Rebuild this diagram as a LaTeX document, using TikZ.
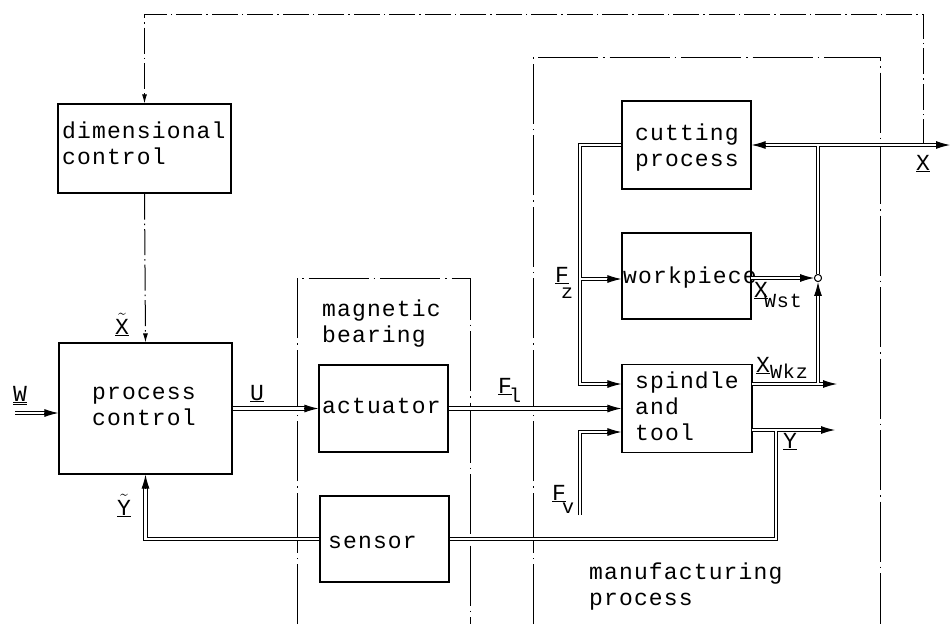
\documentclass[tikz,border=0pt]{standalone}
\usepackage{fontspec}
\newfontfamily\plotfont{Liberation Mono}[LetterSpace=5]
\usetikzlibrary{arrows.meta,calc}
\begin{document}
\begin{tikzpicture}[x=1pt,y=-1pt,
  box/.style={draw,line width=1.1pt,inner sep=0pt,minimum width=#1},
  txt/.style={font=\plotfont\fontsize{23}{26}\selectfont,inner sep=0pt,align=left,anchor=base west},
  lbl/.style={font=\plotfont\fontsize{23}{24}\selectfont,inner sep=0pt,anchor=base west},
  sig/.style={double,line width=1pt,double distance=2.2pt},
  arrowhd/.style={line width=1pt,-{Latex[length=14pt,width=8pt]}},
  smallhd/.style={line width=1pt,-{Latex[length=9pt,width=5pt]}},
  loopline/.style={line width=1pt,dash pattern=on 26pt off 4pt on 1.5pt off 4pt},
  region/.style={line width=1pt,dash pattern=on 60pt off 5pt on 1.5pt off 5pt}]
\useasboundingbox (0,0) rectangle (952,624);
\newcommand\subsz{\fontsize{20}{20}\selectfont}

% blocks
\node[box=173pt,minimum height=89pt] (dc) at (144.5,148.5) {};
\node[box=173pt,minimum height=131pt] (pc) at (145.5,408.5) {};
\node[box=129pt,minimum height=87pt] (act) at (383.5,408.5) {};
\node[box=129pt,minimum height=86pt] (sen) at (384.5,539) {};
\node[box=129pt,minimum height=88pt] (cut) at (686.5,145) {};
\node[box=129pt,minimum height=86pt] (wp) at (686.5,276) {};
\node[box=130pt,minimum height=88pt] (sp) at (687,408.5) {};

% regions
\coordinate (mbBL) at (297,624); \coordinate (mbTR) at (470,278); \coordinate (mbBR) at (470,624);
\coordinate (mpBL) at (533,624); \coordinate (mpTR) at (880,57); \coordinate (mpBR) at (880,624);
\draw[region] (mbBL) |- (mbTR) -- (mbBR);
\draw[region] (mpBL) |- (mpTR) -- (mpBR);

% texts (anchor = baseline of the last line)
\node[txt] (tdc) at (62,164) {dimensional\\control};
\node[txt] (tpc) at (92,425) {process\\control};
\node[txt] (tmb) at (322,342) {magnetic\\bearing};
\node[txt] (tact) at (322,413) {actuator};
\node[txt] (tsen) at (328,548) {sensor};
\node[txt] (tcut) at (635,166) {cutting\\process};
\node[txt] (twp) at (623,283) {workpiece};
\node[txt] (tsp) at (635,440) {spindle\\and\\tool};
\node[txt] (tmp) at (589,605) {manufacturing\\process};

% feedback loop (dimensional)
\coordinate (xTap) at (923,145);
\draw[loopline,smallhd] (xTap) -- ++(0,-131) -| (dc.north);
\draw[loopline,smallhd] (dc.south) -- (pc.north);

% coordinates for signals
\coordinate (win) at (15,413);
\coordinate (fzA) at (580,145);
\coordinate (fzB) at (580,384);
\coordinate (fzC) at (580,279);
\coordinate (fv0) at (580,515);
\coordinate (fv1) at (580,432);
\coordinate (xR) at (950,145);
\coordinate (xJ) at (818,145);
\node[draw,circle,fill=white,line width=0.9pt,inner sep=0pt,minimum size=7pt] (sum) at (818,278) {};
\coordinate (wkzJ) at (818,384);
\coordinate (wkzE) at (837,384);
\coordinate (wkzS) at (752,384);
\coordinate (wstS) at (751,278);
\coordinate (yS) at (752,430);
\coordinate (yE) at (835,430);
\coordinate (yJ) at (776,430);
\coordinate (yB) at (776,539);

% double signal lines
\draw[sig] (win) -- ($(win -| pc.west)+(-11,0)$);
\draw[arrowhd] ($(win -| pc.west)+(-14,0)$) -- (win -| pc.west);
\draw[sig] (pc.east) -- ($(act.west)+(-11,0)$);
\draw[arrowhd] ($(act.west)+(-14,0)$) -- (act.west);
\draw[sig] (act.east) -- ($(sp.west)+(-11,0)$);
\draw[arrowhd] ($(sp.west)+(-14,0)$) -- (sp.west);
\draw[sig] (cut.west) -- (fzA) -- (fzB) -- ($(fzB -| sp.west)+(-11,0)$) (fzC) -- ($(fzC -| wp.west)+(-11,0)$);
\draw[arrowhd] ($(fzB -| sp.west)+(-14,0)$) -- (fzB -| sp.west);
\draw[arrowhd] ($(fzC -| wp.west)+(-14,0)$) -- (fzC -| wp.west);
\draw[sig] (fv0) -- (fv1) -- ($(fv1 -| sp.west)+(-11,0)$);
\draw[arrowhd] ($(fv1 -| sp.west)+(-14,0)$) -- (fv1 -| sp.west);
\draw[sig] ($(cut.east)+(11,0)$) -- ($(xR)+(-11,0)$) (xJ) -- (sum.north) (wkzS) -- ($(wkzE)+(-11,0)$) (wkzJ) -- ($(sum.south)+(0,11)$);
\draw[arrowhd] ($(cut.east)+(14,0)$) -- (cut.east);
\draw[arrowhd] ($(xR)+(-14,0)$) -- (xR);
\draw[arrowhd] ($(wkzE)+(-14,0)$) -- (wkzE);
\draw[arrowhd] ($(sum.south)+(0,14)$) -- (sum.south);
\draw[sig] (wstS) -- ($(sum.west)+(-11,0)$);
\draw[arrowhd] ($(sum.west)+(-14,0)$) -- (sum.west);
\draw[sig] (yS) -- ($(yE)+(-11,0)$) (yJ) -- (yB) -- (sen.east);
\draw[arrowhd] ($(yE)+(-14,0)$) -- (yE);
\draw[sig] (sen.west) -| ($(pc.south)+(0,11)$);
\draw[arrowhd] ($(pc.south)+(0,14)$) -- (pc.south);
\node[draw,circle,fill=white,line width=0.9pt,inner sep=0pt,minimum size=7pt] at (sum) {};

% labels
\node[lbl] (lxt) at (115,334) {$\tilde{\underline{\hbox{X}}}$};
\node[lbl] (lyt) at (117,515) {$\tilde{\underline{\hbox{Y}}}$};
\node[lbl] (lw) at (13,401) {\underline{\underline{W}}};
\node[lbl] (lu) at (250,400) {\underline{U}};
\node[lbl] (lfl) at (498,393) {\underline{F}\raisebox{-9pt}{\hspace{-3pt}\subsz l}};
\node[lbl] (lfz) at (555,282) {\underline{F}\raisebox{-16pt}{\hspace{-8pt}\subsz z}};
\node[lbl] (lfv) at (552,500) {\underline{F}\raisebox{-13pt}{\hspace{-4pt}\subsz v}};
\node[lbl] (lwst) at (754,297) {\underline{X}\raisebox{-10pt}{\hspace{-4pt}\subsz Wst}};
\node[lbl] (lwkz) at (756,372) {\underline{X}\raisebox{-6pt}{\subsz Wkz}};
\node[lbl] (ly) at (783,448) {\underline{Y}};
\node[lbl] (lx) at (916,170) {\underline{X}};
\end{tikzpicture}
\end{document}
